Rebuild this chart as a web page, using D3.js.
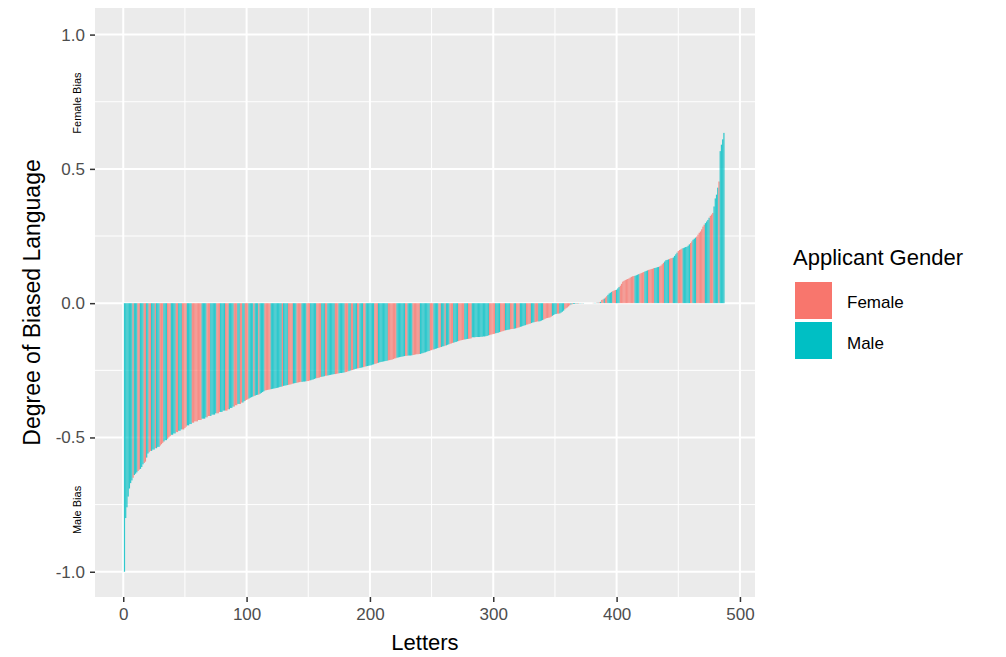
<!DOCTYPE html>
<html>
<head>
<meta charset="utf-8">
<script src="https://cdn.jsdelivr.net/npm/d3@7"></script>
<style>
  body { margin: 0; background: #fff; }
  text { font-family: "Liberation Sans", Arial, sans-serif; }
</style>
</head>
<body>
<svg id="svg_bias" width="1006" height="657"></svg>
<script>
// bias score per letter, sorted low to high
const biasValues = [
  -1.00, -0.80, -0.76, -0.72, -0.69, -0.67, -0.66, -0.65, -0.64, -0.635,
  -0.63, -0.625, -0.62, -0.617, -0.61, -0.60, -0.595, -0.59, -0.575, -0.56,
  -0.555, -0.55, -0.55, -0.545, -0.545, -0.54, -0.54, -0.535, -0.535, -0.53,
  -0.525, -0.52, -0.515, -0.51, -0.51, -0.505, -0.50, -0.495, -0.49, -0.49,
  -0.485, -0.485, -0.48, -0.48, -0.475, -0.475, -0.47, -0.47, -0.47, -0.465,
  -0.46, -0.455, -0.455, -0.45, -0.45, -0.445, -0.445, -0.44, -0.44, -0.44,
  -0.435, -0.435, -0.435, -0.43, -0.43, -0.43, -0.425, -0.425, -0.42, -0.42,
  -0.42, -0.415, -0.415, -0.415, -0.41, -0.41, -0.41, -0.405, -0.405, -0.405,
  -0.40, -0.40, -0.40, -0.40, -0.395, -0.395, -0.39, -0.39, -0.385, -0.385,
  -0.38, -0.38, -0.375, -0.375, -0.375, -0.37, -0.37, -0.365, -0.363, -0.36,
  -0.358, -0.355, -0.352, -0.35, -0.348, -0.346, -0.344, -0.342, -0.341, -0.34,
  -0.337, -0.334, -0.331, -0.328, -0.325, -0.324, -0.323, -0.322, -0.321, -0.32,
  -0.319, -0.318, -0.317, -0.316, -0.315, -0.314, -0.312, -0.311, -0.31, -0.308,
  -0.307, -0.306, -0.305, -0.304, -0.303, -0.302, -0.30, -0.299, -0.298, -0.297,
  -0.296, -0.295, -0.294, -0.293, -0.293, -0.292, -0.292, -0.291, -0.29, -0.29,
  -0.288, -0.287, -0.285, -0.284, -0.282, -0.28, -0.279, -0.278, -0.277, -0.275,
  -0.274, -0.273, -0.272, -0.27, -0.27, -0.269, -0.268, -0.267, -0.266, -0.265,
  -0.264, -0.264, -0.263, -0.262, -0.261, -0.26, -0.26, -0.259, -0.258, -0.257,
  -0.256, -0.254, -0.253, -0.251, -0.25, -0.249, -0.247, -0.245, -0.244, -0.243,
  -0.242, -0.241, -0.24, -0.239, -0.238, -0.236, -0.235, -0.234, -0.233, -0.232,
  -0.231, -0.229, -0.228, -0.226, -0.225, -0.223, -0.222, -0.22, -0.219, -0.218,
  -0.217, -0.216, -0.215, -0.214, -0.213, -0.212, -0.211, -0.21, -0.208, -0.206,
  -0.205, -0.203, -0.202, -0.201, -0.20, -0.199, -0.198, -0.197, -0.196, -0.196,
  -0.195, -0.195, -0.195, -0.194, -0.193, -0.192, -0.191, -0.19, -0.19, -0.189,
  -0.189, -0.187, -0.186, -0.184, -0.183, -0.181, -0.179, -0.178, -0.176, -0.175,
  -0.173, -0.172, -0.17, -0.169, -0.167, -0.166, -0.164, -0.163, -0.161, -0.16,
  -0.158, -0.157, -0.155, -0.153, -0.151, -0.15, -0.148, -0.147, -0.145, -0.144,
  -0.142, -0.141, -0.139, -0.138, -0.137, -0.136, -0.135, -0.134, -0.133, -0.133,
  -0.132, -0.131, -0.127, -0.127, -0.127, -0.126, -0.126, -0.126, -0.126, -0.125,
  -0.125, -0.124, -0.124, -0.123, -0.122, -0.12, -0.119, -0.117, -0.116, -0.115,
  -0.114, -0.112, -0.111, -0.11, -0.108, -0.107, -0.105, -0.104, -0.102, -0.101,
  -0.10, -0.099, -0.098, -0.097, -0.096, -0.096, -0.095, -0.094, -0.093, -0.091,
  -0.09, -0.088, -0.087, -0.085, -0.083, -0.082, -0.08, -0.079, -0.077, -0.076,
  -0.074, -0.072, -0.071, -0.07, -0.069, -0.068, -0.068, -0.067, -0.065, -0.063,
  -0.061, -0.058, -0.056, -0.055, -0.054, -0.053, -0.05, -0.047, -0.044, -0.041,
  -0.04, -0.039, -0.039, -0.038, -0.035, -0.032, -0.028, -0.023, -0.019, -0.016,
  -0.012, -0.008, -0.005, -0.004, -0.003, -0.003, -0.002, -0.002, -0.002, -0.001,
  -0.001, -0.001, -0.001, 0, 0, 0, 0, 0, 0, 0,
  0.001, 0.001, 0.001, 0.002, 0.002, 0.003, 0.005, 0.012, 0.014, 0.017,
  0.021, 0.026, 0.031, 0.036, 0.039, 0.042, 0.045, 0.047, 0.049, 0.05,
  0.055, 0.06, 0.065, 0.072, 0.08, 0.083, 0.086, 0.088, 0.09, 0.092,
  0.095, 0.098, 0.10, 0.101, 0.102, 0.104, 0.106, 0.108, 0.11, 0.112,
  0.114, 0.116, 0.118, 0.12, 0.122, 0.124, 0.125, 0.127, 0.128, 0.13,
  0.131, 0.132, 0.134, 0.135, 0.137, 0.14, 0.145, 0.15, 0.155, 0.16,
  0.161, 0.163, 0.165, 0.167, 0.168, 0.17, 0.176, 0.182, 0.188, 0.194,
  0.198, 0.2, 0.203, 0.205, 0.207, 0.209, 0.21, 0.214, 0.219, 0.224,
  0.23, 0.236, 0.24, 0.244, 0.248, 0.255, 0.262, 0.267, 0.275, 0.285,
  0.292, 0.298, 0.304, 0.31, 0.318, 0.325, 0.33, 0.336, 0.36, 0.39,
  0.404, 0.43, 0.453, 0.566, 0.59, 0.61, 0.634
];

// applicant gender per letter, same order (F = Female, M = Male)
const genderCodes = (
  'MMMMMMMFMM' + 'MFFMMMFFMM' + 'FFMMMFMMMF' + 'FFMMMFFFMM' + 'MMFFMMMFFF' +
  'FMMMMFFFFF' + 'FFFMMMMFFF' + 'MMMMMFFFMM' + 'MMFFFMMMMF' + 'FFMMFFMMFF' +
  'FMMMMFMMMF' + 'MMMMFFFFFM' + 'MMMMMMMMFM' + 'MMMFFFFMMM' + 'FFFFMMMMFF' +
  'FMMMMMFFFF' + 'MMMFFMMMMM' + 'MFFFMMMMMF' + 'FFMMFFMMMF' + 'FMMMFFMMMM' +
  'MMMFFFMMMM' + 'MMMMFFFFFF' + 'FMMMMMMMFF' + 'MMMMFFFFFF' + 'MMMMMMMMFF' +
  'FMMMMFFMMM' + 'FMMMFFFMMM' + 'MFFFFFMMMF' + 'FFMMMMMMMM' + 'MMMMMMFFFF' +
  'FMMMMFFFFM' + 'MMMFFFMMFF' + 'FMMMMMFFFF' + 'MMMFFFMMMM' + 'FFFFFFFMMM' +
  'MFFMMMMFFF' + 'FFMFMMFMFM' + 'MFMMFMFFMM' + 'FMMFMFMFFM' + 'FFMMMMFFFM' +
  'MMFFFFFFFF' + 'FFFFMMMMFF' + 'FFMMMFFFFF' + 'MMMMFFFFMM' + 'MMFFFMMMMF' +
  'FFFMMMMMMF' + 'FMMMFFFFFF' + 'FMMMMFFFMM' + 'MMFMMMM'
).split('');

const genderNames = ['Female', 'Male'];
const genderColors = ['#F8766D', '#00BFC4'];

const yTicks = [-1.0, -0.5, 0.0, 0.5, 1.0];
const yMinor = [-0.75, -0.25, 0.25, 0.75];
const xTicks = [0, 100, 200, 300, 400, 500];
const xMinor = [50, 150, 250, 350, 450];

const letters = biasValues.map((v, i) => ({
  letter: i + 1,
  bias: v,
  gender: genderCodes[i] === 'F' ? 'Female' : 'Male'
}));

const panel = { left: 95, right: 755, top: 8, bottom: 597 };

const x = d3.scaleLinear().domain([-22.9, 512.2]).range([panel.left, panel.right]);
const y = d3.scaleLinear().domain([-1.094, 1.099]).range([panel.bottom, panel.top]);
const color = d3.scaleOrdinal().domain(genderNames).range(genderColors);

const svg = d3.select('#svg_bias');

// grey panel background
svg.append('rect')
  .attr('x', panel.left)
  .attr('y', panel.top)
  .attr('width', panel.right - panel.left)
  .attr('height', panel.bottom - panel.top)
  .attr('fill', '#EBEBEB');

const grid = svg.append('g');

// minor grid lines first, thinner
grid.selectAll('.ym')
  .data(yMinor)
  .enter()
  .append('line')
  .attr('x1', panel.left).attr('x2', panel.right)
  .attr('y1', d => y(d)).attr('y2', d => y(d))
  .attr('stroke', '#fff').attr('stroke-width', 1);

grid.selectAll('.xm')
  .data(xMinor)
  .enter()
  .append('line')
  .attr('y1', panel.top).attr('y2', panel.bottom)
  .attr('x1', d => x(d)).attr('x2', d => x(d))
  .attr('stroke', '#fff').attr('stroke-width', 1);

grid.selectAll('.yM')
  .data(yTicks)
  .enter()
  .append('line')
  .attr('x1', panel.left).attr('x2', panel.right)
  .attr('y1', d => y(d)).attr('y2', d => y(d))
  .attr('stroke', '#fff').attr('stroke-width', 2);

grid.selectAll('.xM')
  .data(xTicks)
  .enter()
  .append('line')
  .attr('y1', panel.top).attr('y2', panel.bottom)
  .attr('x1', d => x(d)).attr('x2', d => x(d))
  .attr('stroke', '#fff').attr('stroke-width', 2);

// the bars, one per letter (full width so they read as a solid band)
const barWidth = x(1) - x(0);
svg.append('g')
  .selectAll('rect')
  .data(letters)
  .enter()
  .append('rect')
  .attr('x', d => x(d.letter) - barWidth / 2)
  .attr('width', barWidth)
  .attr('y', d => y(Math.max(0, d.bias)))
  .attr('height', d => Math.abs(y(d.bias) - y(0)))
  .attr('fill', d => color(d.gender))
  .attr('fill-opacity', 0.8);

// axes
const yAxis = svg.append('g')
  .attr('transform', `translate(${panel.left},0)`)
  .call(d3.axisLeft(y).tickValues(yTicks).tickFormat(d3.format('.1f')).tickSize(5).tickPadding(5));

const xAxis = svg.append('g')
  .attr('transform', `translate(0,${panel.bottom})`)
  .call(d3.axisBottom(x).tickValues(xTicks).tickSize(5).tickPadding(6));

[yAxis, xAxis].forEach(ax => {
  ax.select('.domain').remove();
  ax.selectAll('line').attr('stroke', '#333').attr('stroke-width', 1.5);
  ax.selectAll('text')
    .attr('fill', '#4d4d4d')
    .style('font-size', '17px')
    .style('font-family', '"Liberation Sans", Arial, sans-serif');
});
yAxis.selectAll('text').text(d => d < 0 ? '-' + d3.format('.1f')(-d) : d3.format('.1f')(d));

// axis titles
svg.append('text')
  .text('Letters')
  .attr('x', (panel.left + panel.right) / 2)
  .attr('y', 650)
  .attr('text-anchor', 'middle')
  .style('font-size', '22px')
  .attr('fill', '#000');

svg.append('text')
  .text('Degree of Biased Language')
  .attr('transform', `translate(40,${(panel.top + panel.bottom) / 2}) rotate(-90)`)
  .attr('text-anchor', 'middle')
  .style('font-size', '23px')
  .attr('fill', '#000');

// small side notes next to the y axis
const sideNotes = [
  { label: 'Female Bias', value: 0.745 },
  { label: 'Male Bias', value: -0.77 }
];
svg.append('g')
  .selectAll('text')
  .data(sideNotes)
  .enter()
  .append('text')
  .text(d => d.label)
  .attr('transform', d => `translate(81,${y(d.value)}) rotate(-90)`)
  .attr('text-anchor', 'middle')
  .style('font-size', '11px')
  .attr('fill', '#000');

// legend
const legend = svg.append('g');

legend.append('text')
  .text('Applicant Gender')
  .attr('x', 793)
  .attr('y', 265)
  .style('font-size', '22px')
  .attr('fill', '#000');

legend.selectAll('rect')
  .data(genderNames)
  .enter()
  .append('rect')
  .attr('x', 795)
  .attr('y', (d, i) => 282 + i * 40)
  .attr('width', 37)
  .attr('height', 37)
  .attr('fill', d => color(d));

legend.selectAll('.lab')
  .data(genderNames)
  .enter()
  .append('text')
  .attr('class', 'lab')
  .text(d => d)
  .attr('x', 847)
  .attr('y', (d, i) => 308 + i * 41)
  .style('font-size', '17px')
  .attr('fill', '#000');
</script>
</body>
</html>
